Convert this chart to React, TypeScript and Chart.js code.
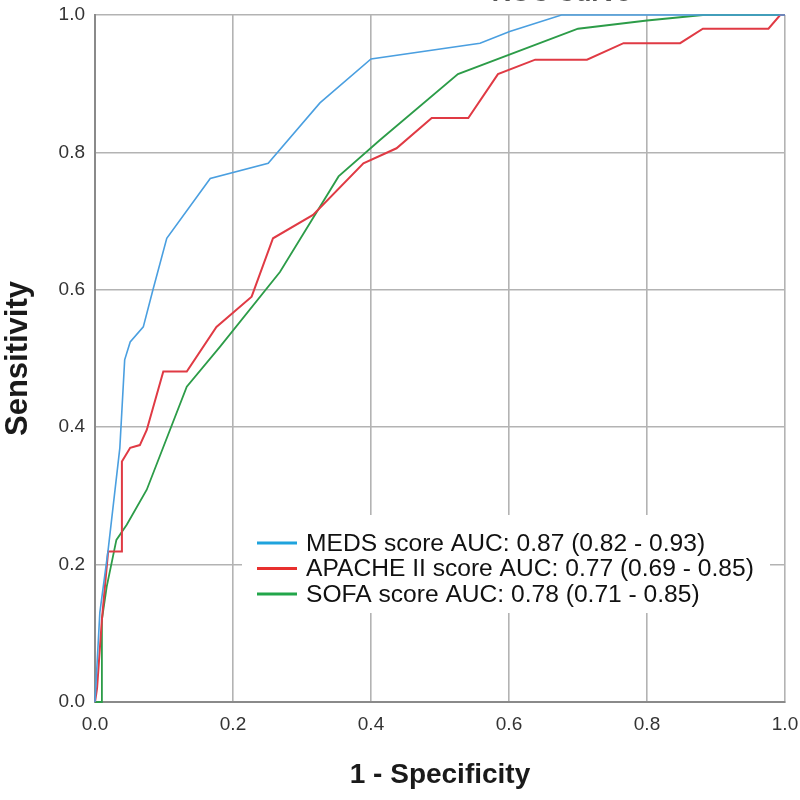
import React, { useEffect, useRef } from "react";
import { Chart, registerables } from "chart.js";

Chart.register(...registerables);

const TITLE = "ROC Curve";
const X_TITLE = "1 - Specificity";
const Y_TITLE = "Sensitivity";
const SERIES_LABELS = [
  "MEDS score AUC: 0.87 (0.82 - 0.93)",
  "APACHE II score AUC: 0.77 (0.69 - 0.85)",
  "SOFA score AUC: 0.78 (0.71 - 0.85)",
];
const SERIES_COLORS = ["#4a9fe0", "#e03a44", "#2c9c48"];
const LEGEND_COLORS = ["#1fa3dd", "#e8302e", "#22a64a"];

const medsFpr = [0, 0.007, 0.019, 0.036, 0.043, 0.051, 0.07, 0.084, 0.104, 0.167, 0.251, 0.326, 0.4, 0.558, 0.601, 0.676, 1];
const medsTpr = [0, 0.13, 0.221, 0.37, 0.498, 0.524, 0.546, 0.6, 0.675, 0.762, 0.784, 0.872, 0.936, 0.959, 0.976, 1, 1];

const apacheFpr = [0, 0.003, 0.01, 0.019, 0.039, 0.039, 0.051, 0.065, 0.075, 0.099, 0.133, 0.176, 0.227, 0.258, 0.316, 0.389, 0.437, 0.488, 0.541, 0.584, 0.638, 0.713, 0.766, 0.848, 0.881, 0.976, 0.993, 1];
const apacheTpr = [0, 0.02, 0.12, 0.219, 0.219, 0.35, 0.37, 0.374, 0.396, 0.481, 0.481, 0.546, 0.59, 0.675, 0.709, 0.784, 0.806, 0.85, 0.85, 0.914, 0.935, 0.935, 0.959, 0.959, 0.98, 0.98, 1, 1];

const sofaFpr = [0, 0.01, 0.01, 0.017, 0.031, 0.046, 0.075, 0.133, 0.181, 0.268, 0.353, 0.413, 0.526, 0.7, 0.8, 0.881, 1];
const sofaTpr = [0, 0, 0.12, 0.168, 0.236, 0.258, 0.309, 0.459, 0.517, 0.626, 0.765, 0.818, 0.914, 0.98, 0.992, 1, 1];

const TICK_STEP = 0.2;

const toPoints = (xs: number[], ys: number[]) => xs.map((x, i) => ({ x, y: ys[i] }));

const FONT = "'Liberation Sans', Arial, sans-serif";

const titlePlugin = {
  id: "clippedTitle",
  afterDraw(chart: any) {
    const { ctx } = chart;
    ctx.save();
    ctx.font = `bold 26px ${FONT}`;
    ctx.fillStyle = "#555";
    ctx.textAlign = "center";
    ctx.textBaseline = "alphabetic";
    ctx.fillText(TITLE, 561, 31);
    ctx.restore();
  },
};

const legendPlugin = {
  id: "insideLegend",
  afterDatasetsDraw(chart: any) {
    const { ctx, chartArea } = chart;
    const left = chartArea.left + 147;
    const top = chartArea.top + 500;
    const width = 528;
    const height = 98;
    ctx.save();
    ctx.fillStyle = "#ffffff";
    ctx.fillRect(left, top, width, height);
    ctx.font = `24.6px ${FONT}`;
    ctx.textBaseline = "middle";
    ctx.textAlign = "left";
    chart.data.datasets.forEach((ds: any, i: number) => {
      const cy = top + 28 + i * 25.5;
      ctx.strokeStyle = LEGEND_COLORS[i];
      ctx.lineWidth = 3;
      ctx.beginPath();
      ctx.moveTo(left + 15, cy);
      ctx.lineTo(left + 55, cy);
      ctx.stroke();
      ctx.fillStyle = "#111";
      ctx.fillText(ds.label, left + 64, cy + 1);
    });
    ctx.restore();
  },
};

export default function App() {
  const ref = useRef<HTMLCanvasElement>(null);

  useEffect(() => {
    if (!ref.current) return;
    const axisCommon = (title: string, size: number) => ({
      type: "linear" as const,
      min: 0,
      max: 1,
      ticks: {
        stepSize: TICK_STEP,
        callback: (v: any) => Number(v).toFixed(1),
        font: { family: FONT, size: 19 },
        color: "#333",
      },
      grid: { color: "#b3b3b3", lineWidth: 1.6, drawTicks: false },
      border: { color: "#8a8a8a", width: 2 },
      title: {
        display: true,
        text: title,
        font: { family: FONT, size, weight: "bold" as const },
        color: "#1a1a1a",
      },
    });
    const xAxis: any = axisCommon(X_TITLE, 28);
    xAxis.ticks.padding = 11;
    xAxis.title.padding = { top: 0, bottom: 8 };
    xAxis.afterFit = (s: any) => {
      s.height = 98;
      s.paddingLeft = 0;
      s.paddingRight = 0;
    };
    const yAxis: any = axisCommon(Y_TITLE, 31);
    yAxis.ticks.padding = 10;
    yAxis.title.padding = { top: 0, bottom: 0 };
    yAxis.afterFit = (s: any) => {
      s.width = 95;
      s.paddingTop = 0;
      s.paddingBottom = 0;
    };

    const chart = new Chart(ref.current, {
      type: "line",
      data: {
        datasets: [
          { label: SERIES_LABELS[0], data: toPoints(medsFpr, medsTpr), borderColor: SERIES_COLORS[0], borderWidth: 1.6 },
          { label: SERIES_LABELS[1], data: toPoints(apacheFpr, apacheTpr), borderColor: SERIES_COLORS[1], borderWidth: 2 },
          { label: SERIES_LABELS[2], data: toPoints(sofaFpr, sofaTpr), borderColor: SERIES_COLORS[2], borderWidth: 1.8 },
        ].map((d) => ({ ...d, pointRadius: 0, tension: 0, fill: false, clip: 3 })),
      },
      options: {
        animation: false,
        responsive: false,
        devicePixelRatio: 1,
        layout: { padding: { top: 45, right: 15, left: 0, bottom: 0 } },
        plugins: { legend: { display: false }, title: { display: false }, tooltip: { enabled: false } },
        scales: { x: xAxis, y: yAxis },
      },
      plugins: [legendPlugin, titlePlugin],
    });
    return () => chart.destroy();
  }, []);

  return (
    <div style={{ position: "absolute", left: 0, top: -30, width: 800, height: 830, background: "#fff" }}>
      <canvas ref={ref} width={800} height={830} style={{ display: "block", width: 800, height: 830 }} />
    </div>
  );
}
